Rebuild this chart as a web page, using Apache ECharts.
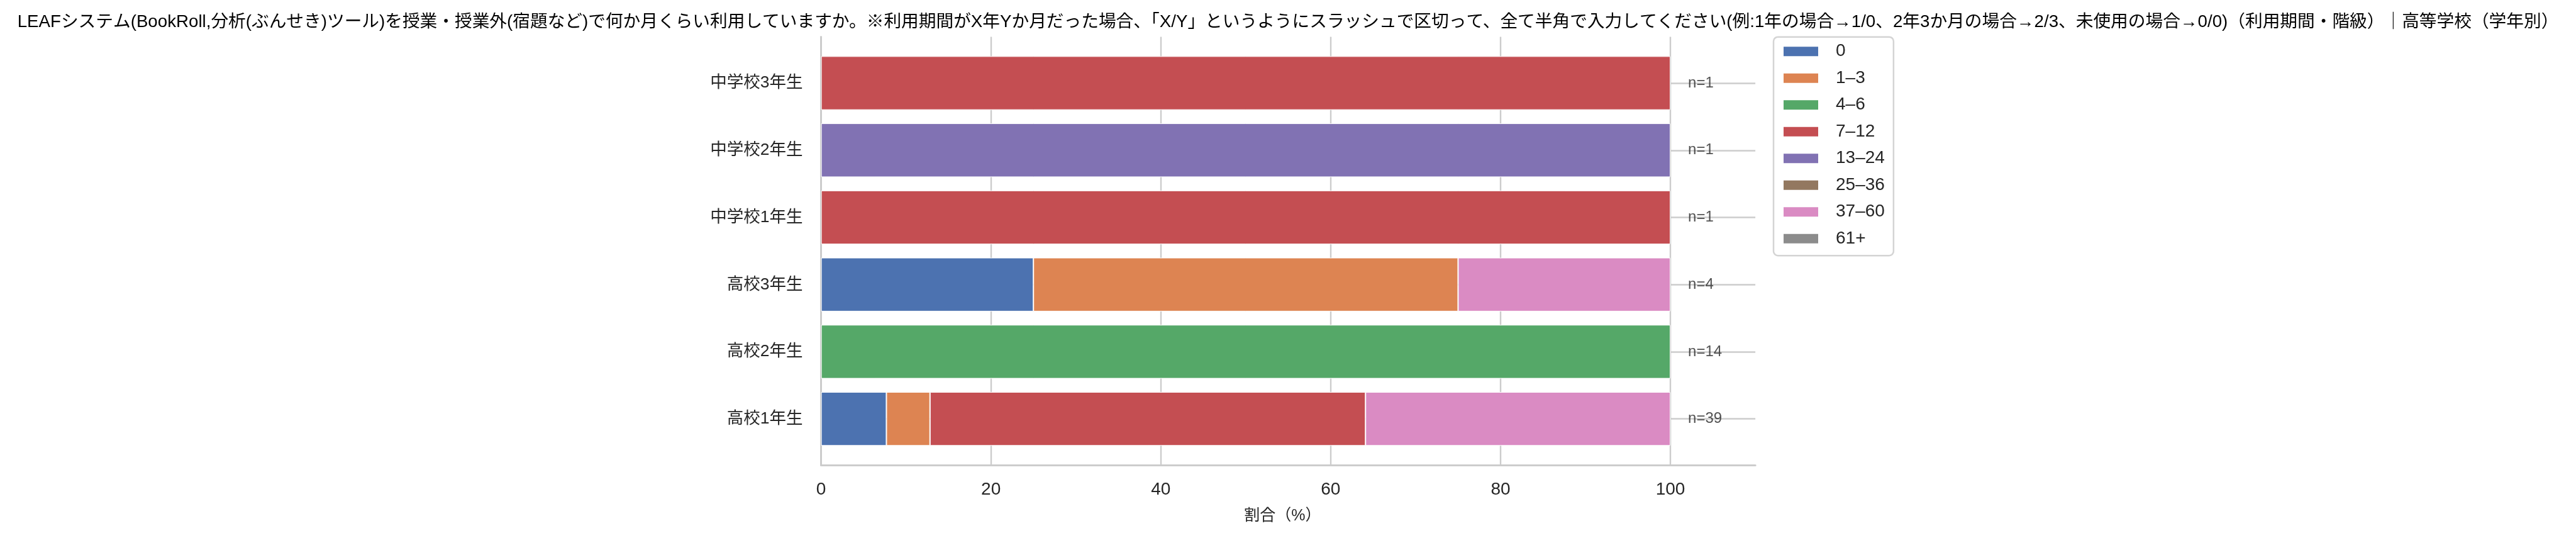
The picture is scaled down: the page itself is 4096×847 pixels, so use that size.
<!DOCTYPE html>
<html>
<head>
<meta charset="utf-8">
<script src="https://cdn.jsdelivr.net/npm/echarts@6/dist/echarts.min.js"></script>
<style>
html,body{margin:0;padding:0;background:#fff;}
#chart{width:4096px;height:847px;}
</style>
</head>
<body>
<div id="chart"></div>
<script>
const titleText = 'LEAFシステム(BookRoll,分析(ぶんせき)ツール)を授業・授業外(宿題など)で何か月くらい利用していますか。※利用期間がX年Yか月だった場合、「X/Y」というようにスラッシュで区切って、全て半角で入力してください(例:1年の場合→1/0、2年3か月の場合→2/3、未使用の場合→0/0)（利用期間・階級）｜高等学校（学年別）';
const categories = ['中学校3年生', '中学校2年生', '中学校1年生', '高校3年生', '高校2年生', '高校1年生'];
const nValues = [1, 1, 1, 4, 14, 39];
const seriesNames = ['0', '1–3', '4–6', '7–12', '13–24', '25–36', '37–60', '61+'];
const seriesColors = ['#4c72b0', '#dd8452', '#55a868', '#c44e52', '#8172b3', '#937860', '#da8bc3', '#8c8c8c'];
const vals0    = [0, 0, 0, 25, 0, 7.69];
const vals1_3  = [0, 0, 0, 50, 0, 5.13];
const vals4_6  = [0, 0, 0, 0, 100, 0];
const vals7_12 = [100, 0, 100, 0, 0, 51.28];
const vals13_24 = [0, 100, 0, 0, 0, 0];
const vals25_36 = [0, 0, 0, 0, 0, 0];
const vals37_60 = [0, 0, 0, 25, 0, 35.90];
const vals61p  = [0, 0, 0, 0, 0, 0];
const xTicks = [0, 20, 40, 60, 80, 100];
const xName = '割合（%）';

const allVals = [vals0, vals1_3, vals4_6, vals7_12, vals13_24, vals25_36, vals37_60, vals61p];
const FONT = '"Liberation Sans", "Noto Sans CJK JP", sans-serif';
const TXT = '#262626';
const GRIDC = '#cccccc';

const L = 1305.6, R = 4096 - 2791.1;
const barSeries = seriesNames.map((name, k) => ({
  name: name,
  type: 'bar',
  stack: 'total',
  xAxisIndex: 0,
  yAxisIndex: 0,
  barCategoryGap: '20%',
  itemStyle: { color: seriesColors[k], borderColor: '#ffffff', borderWidth: 1 },
  emphasis: { disabled: true },
  data: allVals[k].map(v => (v === 0 ? '-' : v))
}));
const totals = categories.map((c, i) => allVals.reduce((s, arr) => s + arr[i], 0));

const option = {
  animation: false,
  backgroundColor: '#ffffff',
  textStyle: { fontFamily: FONT },
  title: {
    text: titleText,
    left: 'center',
    top: 17,
    textStyle: { fontFamily: FONT, fontSize: 27.7, fontWeight: 'normal', color: '#000000' }
  },
  legend: {
    data: seriesNames,
    orient: 'vertical',
    left: 2820,
    top: 58.7,
    icon: 'rect',
    itemWidth: 57,
    itemHeight: 17,
    itemGap: 14.5,
    padding: [9, 14, 13, 14],
    borderColor: '#d4d4d4',
    borderWidth: 2.5,
    borderRadius: 7,
    selectedMode: false,
    textStyle: { fontFamily: FONT, fontSize: 28, color: TXT, padding: [0, 0, 0, 22] }
  },
  grid: [
    { left: L, right: R, top: 78.7, bottom: 128 },
    { left: L, right: R, top: 58.4, bottom: 847 - 739.3 }
  ],
  xAxis: [
    { type: 'value', gridIndex: 0, min: 0, max: 110, show: false },
    {
      type: 'value', gridIndex: 1, min: 0, max: 110, interval: 20,
      name: xName, nameLocation: 'middle', nameGap: 68,
      nameTextStyle: { fontFamily: FONT, fontSize: 25, color: TXT, padding: [0, 18, 0, 0] },
      axisLine: { show: true, onZero: false, lineStyle: { color: GRIDC, width: 3 } },
      axisTick: { show: false },
      axisLabel: { fontFamily: FONT, fontSize: 28, color: TXT, margin: 25, showMaxLabel: false,
        formatter: v => (xTicks.indexOf(v) >= 0 ? String(v) : '') },
      splitLine: { show: true, showMinLine: false, showMaxLine: false, lineStyle: { color: GRIDC, width: 2.4 } }
    }
  ],
  yAxis: [
    {
      type: 'category', gridIndex: 0, data: categories, inverse: true,
      axisLine: { show: false }, axisTick: { show: false }, splitLine: { show: false },
      axisLabel: { fontFamily: FONT, fontSize: 26.5, color: TXT, margin: 29 }
    },
    {
      type: 'value', gridIndex: 1, min: -0.69, max: 5.69, minInterval: 1, maxInterval: 1, inverse: true,
      axisLine: { show: true, onZero: false, lineStyle: { color: GRIDC, width: 3 } },
      axisTick: { show: false }, axisLabel: { show: false },
      splitLine: { show: true, showMinLine: false, showMaxLine: false, lineStyle: { color: GRIDC, width: 2.6 } }
    }
  ],
  series: barSeries.concat([{
    name: 'n',
    type: 'scatter',
    xAxisIndex: 0,
    yAxisIndex: 0,
    symbolSize: 0,
    z: 5,
    silent: true,
    data: categories.map((c, i) => [totals[i], i]),
    label: {
      show: true, position: 'right', distance: 28,
      fontFamily: FONT, fontSize: 24, color: TXT,
      formatter: p => 'n=' + nValues[p.dataIndex]
    }
  }])
};

const chart = echarts.init(document.getElementById('chart'), null, { renderer: 'canvas' });
chart.setOption(option);
</script>
</body>
</html>
